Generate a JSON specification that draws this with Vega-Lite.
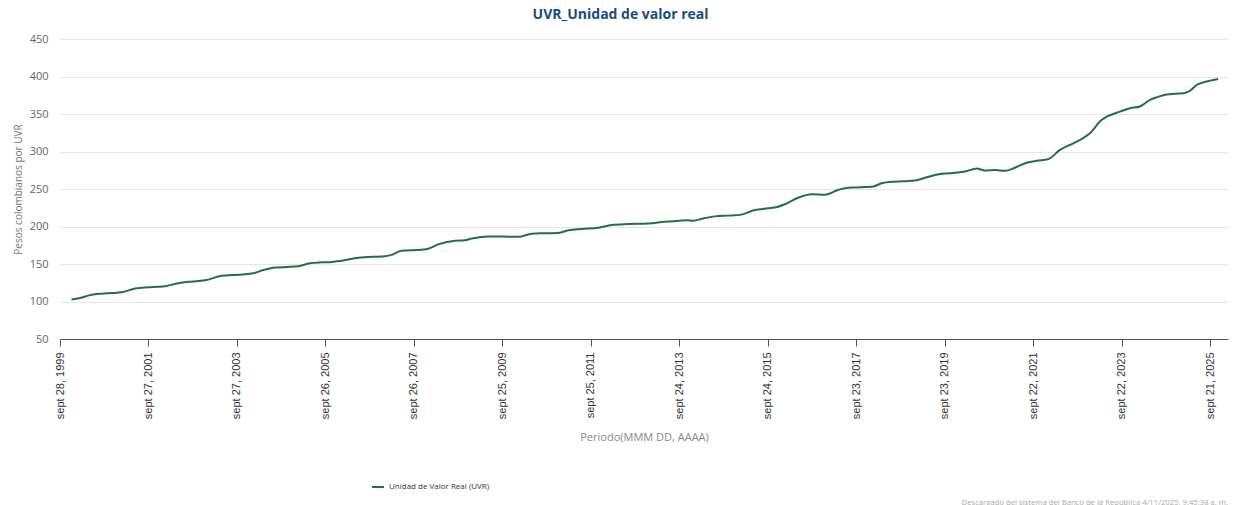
{
  "$schema": "https://vega.github.io/schema/vega-lite/v6.json",
  "padding": {"left": 13, "right": 5, "top": 8, "bottom": 2},
  "background": "white",
  "title": {"text": "UVR_Unidad de valor real", "fontSize": 14, "font": "Open Sans", "fontWeight": "bold", "color": "#164e7e", "anchor": "middle", "offset": 11},
  "config": {"view": {"stroke": null}},
  "vconcat": [
    {
      "width": 1168,
      "height": 300,
      "title": {"text": "Descargado del sistema del Banco de la República 4/11/2025, 9:45:38 a. m.", "orient": "bottom", "anchor": "end", "fontSize": 7.7, "color": "#aaaaaa", "fontWeight": "normal", "font": "Open Sans", "offset": 56},
      "data": {"values": [
        {"fecha": "2000-01-01", "uvr": 102.6},
        {"fecha": "2000-03-10", "uvr": 104.6},
        {"fecha": "2000-06-15", "uvr": 109.0},
        {"fecha": "2000-09-06", "uvr": 110.4},
        {"fecha": "2000-12-01", "uvr": 111.2},
        {"fecha": "2001-02-18", "uvr": 112.2},
        {"fecha": "2001-06-08", "uvr": 117.3},
        {"fecha": "2001-09-26", "uvr": 118.9},
        {"fecha": "2001-12-10", "uvr": 119.6},
        {"fecha": "2002-02-10", "uvr": 120.3},
        {"fecha": "2002-05-30", "uvr": 124.4},
        {"fecha": "2002-08-21", "uvr": 126.2},
        {"fecha": "2002-11-10", "uvr": 127.2},
        {"fecha": "2003-01-06", "uvr": 128.2},
        {"fecha": "2003-05-23", "uvr": 134.2},
        {"fecha": "2003-10-08", "uvr": 135.8},
        {"fecha": "2004-01-26", "uvr": 137.2},
        {"fecha": "2004-05-05", "uvr": 142.0},
        {"fecha": "2004-08-06", "uvr": 145.2},
        {"fecha": "2004-11-15", "uvr": 146.0},
        {"fecha": "2005-02-14", "uvr": 147.0},
        {"fecha": "2005-05-21", "uvr": 150.9},
        {"fecha": "2005-08-26", "uvr": 152.2},
        {"fecha": "2005-11-20", "uvr": 152.8},
        {"fecha": "2006-02-07", "uvr": 154.2},
        {"fecha": "2006-05-27", "uvr": 157.6},
        {"fecha": "2006-09-14", "uvr": 159.3},
        {"fecha": "2006-12-10", "uvr": 159.8},
        {"fecha": "2007-01-30", "uvr": 160.4},
        {"fecha": "2007-03-26", "uvr": 162.2},
        {"fecha": "2007-06-17", "uvr": 167.6},
        {"fecha": "2007-11-29", "uvr": 169.1},
        {"fecha": "2008-01-22", "uvr": 170.3},
        {"fecha": "2008-04-14", "uvr": 176.2},
        {"fecha": "2008-08-30", "uvr": 181.0},
        {"fecha": "2008-11-20", "uvr": 181.8},
        {"fecha": "2009-01-15", "uvr": 184.0},
        {"fecha": "2009-06-01", "uvr": 186.8},
        {"fecha": "2009-10-01", "uvr": 186.6},
        {"fecha": "2010-02-04", "uvr": 186.3},
        {"fecha": "2010-05-25", "uvr": 190.4},
        {"fecha": "2010-08-30", "uvr": 191.0},
        {"fecha": "2010-12-30", "uvr": 191.4},
        {"fecha": "2011-03-23", "uvr": 194.9},
        {"fecha": "2011-07-10", "uvr": 196.8},
        {"fecha": "2011-11-25", "uvr": 198.4},
        {"fecha": "2012-03-15", "uvr": 202.0},
        {"fecha": "2012-08-01", "uvr": 203.2},
        {"fecha": "2013-01-11", "uvr": 204.0},
        {"fecha": "2013-05-28", "uvr": 206.3},
        {"fecha": "2013-09-24", "uvr": 207.8},
        {"fecha": "2013-12-03", "uvr": 208.3},
        {"fecha": "2014-01-14", "uvr": 207.6},
        {"fecha": "2014-04-15", "uvr": 211.0},
        {"fecha": "2014-07-15", "uvr": 213.5},
        {"fecha": "2014-11-01", "uvr": 214.5},
        {"fecha": "2015-02-06", "uvr": 215.5},
        {"fecha": "2015-06-10", "uvr": 222.0},
        {"fecha": "2015-09-25", "uvr": 224.2},
        {"fecha": "2015-12-10", "uvr": 226.0},
        {"fecha": "2016-02-12", "uvr": 229.6},
        {"fecha": "2016-05-30", "uvr": 238.4},
        {"fecha": "2016-09-23", "uvr": 243.0},
        {"fecha": "2017-01-08", "uvr": 242.4},
        {"fecha": "2017-04-25", "uvr": 248.7},
        {"fecha": "2017-07-16", "uvr": 251.8},
        {"fecha": "2017-09-23", "uvr": 252.0},
        {"fecha": "2017-12-10", "uvr": 252.6},
        {"fecha": "2018-02-11", "uvr": 253.4},
        {"fecha": "2018-04-20", "uvr": 257.6},
        {"fecha": "2018-07-12", "uvr": 259.6},
        {"fecha": "2018-10-15", "uvr": 260.2},
        {"fecha": "2019-01-20", "uvr": 261.2},
        {"fecha": "2019-04-15", "uvr": 265.0},
        {"fecha": "2019-07-04", "uvr": 268.7},
        {"fecha": "2019-09-24", "uvr": 270.6},
        {"fecha": "2019-12-15", "uvr": 271.6},
        {"fecha": "2020-03-08", "uvr": 273.3},
        {"fecha": "2020-06-13", "uvr": 277.3},
        {"fecha": "2020-08-20", "uvr": 274.6},
        {"fecha": "2020-11-10", "uvr": 275.3},
        {"fecha": "2021-02-01", "uvr": 274.2},
        {"fecha": "2021-04-24", "uvr": 278.4},
        {"fecha": "2021-07-30", "uvr": 285.0},
        {"fecha": "2021-10-21", "uvr": 287.6},
        {"fecha": "2022-01-24", "uvr": 289.8},
        {"fecha": "2022-04-28", "uvr": 301.8},
        {"fecha": "2022-08-18", "uvr": 310.9},
        {"fecha": "2022-10-20", "uvr": 316.0},
        {"fecha": "2023-01-03", "uvr": 324.2},
        {"fecha": "2023-04-08", "uvr": 342.0},
        {"fecha": "2023-05-20", "uvr": 346.4},
        {"fecha": "2023-09-07", "uvr": 353.1},
        {"fecha": "2023-11-28", "uvr": 357.6},
        {"fecha": "2024-02-19", "uvr": 360.0},
        {"fecha": "2024-05-12", "uvr": 368.7},
        {"fecha": "2024-07-06", "uvr": 372.2},
        {"fecha": "2024-09-27", "uvr": 376.0},
        {"fecha": "2024-12-01", "uvr": 377.0},
        {"fecha": "2025-02-11", "uvr": 377.8},
        {"fecha": "2025-04-08", "uvr": 381.0},
        {"fecha": "2025-06-02", "uvr": 388.7},
        {"fecha": "2025-07-26", "uvr": 392.2},
        {"fecha": "2025-09-21", "uvr": 394.5},
        {"fecha": "2025-11-26", "uvr": 396.7}
      ]},
      "mark": {"type": "line", "strokeWidth": 2, "interpolate": "monotone"},
      "encoding": {
        "x": {
          "field": "fecha",
          "type": "temporal",
          "scale": {"type": "utc", "domain": [{"year": 1999, "month": 9, "date": 28, "utc": true}, {"year": 2026, "month": 2, "date": 15, "utc": true}]},
          "axis": {
            "values": [
              {"year": 1999, "month": 9, "date": 28, "utc": true},
              {"year": 2001, "month": 9, "date": 27, "utc": true},
              {"year": 2003, "month": 9, "date": 27, "utc": true},
              {"year": 2005, "month": 9, "date": 26, "utc": true},
              {"year": 2007, "month": 9, "date": 26, "utc": true},
              {"year": 2009, "month": 9, "date": 25, "utc": true},
              {"year": 2011, "month": 9, "date": 25, "utc": true},
              {"year": 2013, "month": 9, "date": 24, "utc": true},
              {"year": 2015, "month": 9, "date": 24, "utc": true},
              {"year": 2017, "month": 9, "date": 23, "utc": true},
              {"year": 2019, "month": 9, "date": 23, "utc": true},
              {"year": 2021, "month": 9, "date": 22, "utc": true},
              {"year": 2023, "month": 9, "date": 22, "utc": true},
              {"year": 2025, "month": 9, "date": 21, "utc": true}
            ],
            "labelExpr": "'sept ' + utcFormat(datum.value, '%d, %Y')",
            "labelAngle": -90,
            "labelFont": "Liberation Sans",
            "labelFontSize": 11,
            "labelColor": "#333333",
            "labelPadding": 6,
            "labelOverlap": false,
            "domainColor": "#555555",
            "tickColor": "#555555",
            "tickSize": 7,
            "grid": false,
            "title": "Periodo(MMM DD, AAAA)",
            "titleFont": "Open Sans",
            "titleFontSize": 11,
            "titleFontWeight": "normal",
            "titleColor": "#888888",
            "titlePadding": 13
          }
        },
        "y": {
          "field": "uvr",
          "type": "quantitative",
          "scale": {"domain": [50, 450], "nice": false, "zero": false},
          "axis": {
            "values": [50, 100, 150, 200, 250, 300, 350, 400, 450],
            "domain": false,
            "ticks": false,
            "gridColor": "#e6e6e6",
            "labelFont": "Open Sans",
            "labelFontSize": 11,
            "labelColor": "#666666",
            "labelPadding": 12,
            "title": "Pesos colombianos por UVR",
            "titleFont": "Open Sans",
            "titleFontSize": 10,
            "titleFontWeight": "normal",
            "titleColor": "#777777",
            "titlePadding": 6
          }
        },
        "color": {
          "datum": "Unidad de Valor Real (UVR)",
          "scale": {"range": ["#23703f"]},
          "legend": {
            "orient": "none",
            "legendX": 311,
            "legendY": 441,
            "title": null,
            "direction": "horizontal",
            "symbolType": "stroke",
            "symbolStrokeWidth": 2,
            "symbolSize": 144,
            "labelFont": "Open Sans",
            "labelFontSize": 8,
            "labelColor": "#333333"
          }
        }
      }
    }
  ]
}
